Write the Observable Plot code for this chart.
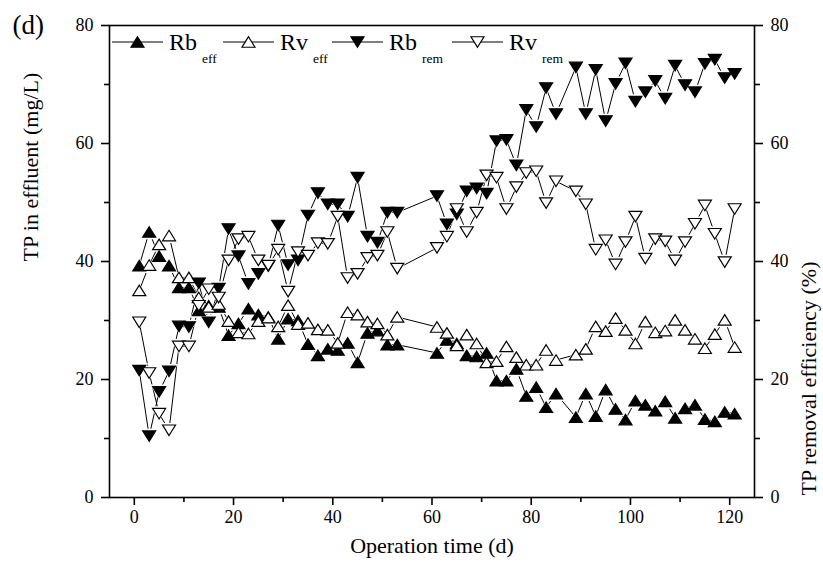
<!DOCTYPE html>
<html><head><meta charset="utf-8">
<script src="https://cdn.jsdelivr.net/npm/d3@7"></script>
<script src="https://cdn.jsdelivr.net/npm/@observablehq/plot@0.6"></script>
<style>
body{margin:0;background:#fff;}
#wrap{position:relative;width:823px;height:566px;background:#fff;}
#overlay{position:absolute;left:0;top:0;pointer-events:none;}
</style></head><body><div id="wrap"></div>
<script>
const days = [1,3,5,7,9,11,13,15,17,19,21,23,25,27,29,31,33,35,37,39,41,43,45,47,49,51,53,
  61,63,65,67,69,71,73,75,77,79,81,83,85,
  89,91,93,95,97,99,101,103,105,107,109,111,113,115,117,119,121];
const rbEff = [39.3,45.0,40.9,39.3,35.6,35.6,31.7,32.5,32.3,27.5,29.5,32.0,31.0,30.6,26.9,30.3,30.0,26.0,24.1,25.2,25.0,26.2,22.9,27.9,28.3,25.9,25.9,
  24.5,26.7,26.1,24.1,23.9,24.5,19.8,19.8,21.8,17.2,18.7,15.3,17.6,
  13.6,17.6,13.8,18.3,15.0,13.2,16.4,15.7,14.7,16.3,13.5,15.1,15.7,13.3,12.9,14.5,14.2];
const rvEff = [35.1,39.4,42.9,44.4,37.3,37.3,33.9,32.3,32.8,29.9,28.0,27.8,29.9,30.5,29.0,32.6,29.4,29.6,28.5,28.4,26.2,31.4,31.0,29.8,29.5,27.6,30.6,
  28.9,27.9,25.8,27.6,26.1,22.9,23.1,25.6,23.8,22.5,22.5,25.0,23.3,
  24.2,25.2,29.0,28.2,30.4,28.4,26.1,29.8,28.0,28.3,30.1,28.4,26.9,25.3,27.7,30.1,25.5];
const rbRem = [21.5,10.4,17.9,21.4,29.0,28.9,36.3,29.7,35.4,45.5,40.9,36.2,37.9,39.2,46.1,39.4,40.2,47.8,51.6,49.7,49.7,47.6,54.2,44.2,43.2,48.3,48.3,
  51.1,46.3,48.0,51.9,52.4,51.5,60.4,60.6,56.3,65.7,62.8,69.4,65.0,
  72.9,65.0,72.5,63.8,70.1,73.6,67.1,68.7,70.6,67.6,73.2,69.9,68.7,73.5,74.2,71.1,71.8];
const rvRem = [29.7,21.1,14.2,11.4,25.6,25.6,32.5,35.3,33.9,40.2,43.8,44.2,40.2,39.3,42.0,34.9,41.6,41.0,43.1,43.0,47.6,37.2,37.9,40.6,41.0,45.0,38.8,
  42.3,44.2,48.9,45.0,48.3,54.6,54.2,48.9,52.6,55.0,55.3,49.9,53.6,
  51.9,49.7,42.0,43.6,39.5,43.3,47.6,40.5,43.8,43.4,40.2,43.3,46.4,49.5,44.7,39.9,48.9];

const seriesNames = ["Rb", "Rv", "Rb", "Rv"];
const seriesSubs = ["eff", "eff", "rem", "rem"];
const xMajor = [0,20,40,60,80,100,120];
const xMinor = [10,30,50,70,90,110];
const yMajor = [0,20,40,60,80];
const yMinor = [10,30,50,70];
const xTitle = "Operation time (d)";
const yLeftTitle = "TP in effluent (mg/L)";
const yRightTitle = "TP removal efficiency (%)";
const panelLabel = "(d)";

const FONT = '"Liberation Serif","Times New Roman",serif';

function triPath(ctx, r, dir){
  const hw = r*1.3, hh = r*1.05;
  ctx.moveTo(0, -dir*hh); ctx.lineTo(hw, dir*hh); ctx.lineTo(-hw, dir*hh); ctx.closePath();
}
const triUp = {draw(ctx, size){ triPath(ctx, Math.sqrt(size/Math.PI), 1); }};
const triDown = {draw(ctx, size){ triPath(ctx, Math.sqrt(size/Math.PI), -1); }};

const series = [
  {values: rbEff, sym: triUp, fill: "black"},
  {values: rvEff, sym: triUp, fill: "white"},
  {values: rbRem, sym: triDown, fill: "black"},
  {values: rvRem, sym: triDown, fill: "white"}
];
const rows = s => days.map((d,i)=>({day:d, v:s.values[i]}));

const chart = Plot.plot({
  width: 823, height: 566,
  marginLeft: 109, marginRight: 69, marginTop: 25, marginBottom: 69,
  style: {fontFamily: FONT, fontSize: "18px", color: "black", background: "white", overflow: "visible"},
  x: {domain: [-5, 125]},
  y: {domain: [0, 80]},
  marks: [
    ...series.map(s => Plot.line(rows(s), {x: "day", y: "v", stroke: "black", strokeWidth: 1})),
    ...series.map(s => Plot.dot(rows(s), {x: "day", y: "v", symbol: s.sym, r: 7, fill: "white", stroke: "none"})),
    ...series.map(s => Plot.dot(rows(s), {x: "day", y: "v", symbol: s.sym, r: 5, fill: s.fill, stroke: "black", strokeWidth: 1.2})),
    Plot.frame({stroke: "black", strokeWidth: 1.6}),
    Plot.axisX({ticks: xMajor, tickSize: 8, tickPadding: 5, fontSize: 18, strokeWidth: 1.6, label: null}),
    Plot.axisX({ticks: xMinor, tickSize: 5, text: null, strokeWidth: 1.6, label: null}),
    Plot.axisY({ticks: yMajor, tickSize: 8, tickPadding: 8, fontSize: 18, strokeWidth: 1.6, label: null}),
    Plot.axisY({ticks: yMinor, tickSize: 5, text: null, strokeWidth: 1.6, label: null}),
    Plot.axisY({anchor: "right", ticks: yMajor, tickSize: 8, tickPadding: 8, fontSize: 18, strokeWidth: 1.6, label: null}),
    Plot.axisY({anchor: "right", ticks: yMinor, tickSize: 5, text: null, strokeWidth: 1.6, label: null}),
    Plot.text([xTitle], {frameAnchor: "bottom", dy: 48, fontSize: 22, lineAnchor: "middle"}),
    Plot.text([yLeftTitle], {frameAnchor: "left", dx: -79, rotate: -90, fontSize: 22, lineAnchor: "middle"}),
    Plot.text([yRightTitle], {frameAnchor: "right", dx: 54, rotate: -90, fontSize: 22, lineAnchor: "middle"}),
    Plot.text([panelLabel], {frameAnchor: "top-left", dx: -97, dy: 8, fontSize: 27, textAnchor: "start", lineAnchor: "bottom"})
  ]
});
const wrap = document.getElementById("wrap");
wrap.appendChild(chart);

// Legend overlay (inside the plot, top)
const legX = [112, 223, 332, 452];
const ov = d3.select(wrap).append("svg").attr("id","overlay").attr("width",823).attr("height",566)
  .attr("font-family", FONT);
const symUp = d3.symbol().type(triUp).size(Math.PI*25)();
const symDown = d3.symbol().type(triDown).size(Math.PI*25)();
series.forEach((s,i)=>{
  const g = ov.append("g").attr("transform", `translate(${legX[i]},0)`);
  g.append("line").attr("x1",0).attr("x2",51).attr("y1",42).attr("y2",42).attr("stroke","black").attr("stroke-width",1);
  g.append("path").attr("d", s.sym === triUp ? symUp : symDown).attr("transform","translate(25.5,42)")
    .attr("fill", s.fill).attr("stroke","black").attr("stroke-width",1.2);
  const t = g.append("text").attr("x",57).attr("y",50).attr("font-size",24).text(seriesNames[i]);
  t.append("tspan").attr("dx",5).attr("dy",13).attr("font-size",13.5).text(seriesSubs[i]);
});
</script></body></html>
